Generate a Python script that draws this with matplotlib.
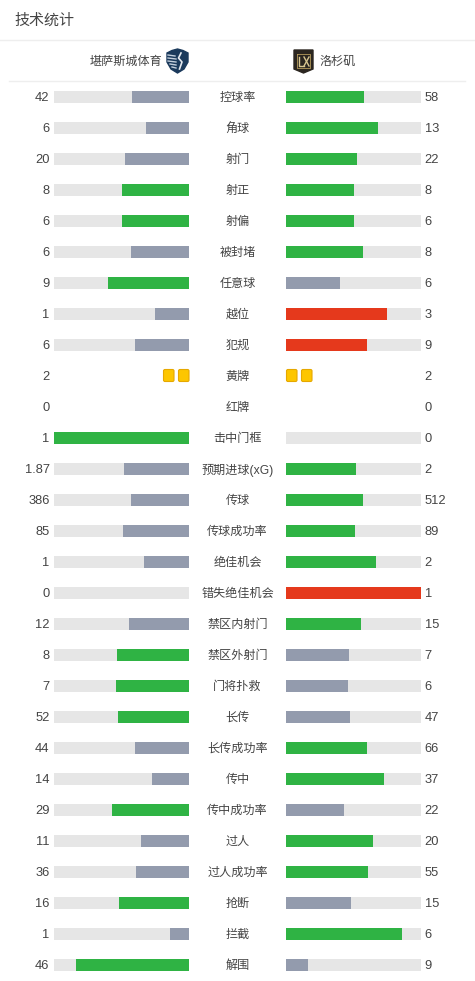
import matplotlib
matplotlib.use("Agg")
import matplotlib.pyplot as plt
from matplotlib.patches import Polygon, FancyBboxPatch

plt.rcParams['font.family'] = ['Liberation Sans', 'Noto Sans CJK SC', 'DejaVu Sans']

W, H = 475, 981

stats = ['控球率', '角球', '射门', '射正', '射偏', '被封堵', '任意球', '越位', '犯规', '黄牌', '红牌',
         '击中门框', '预期进球(xG)', '传球', '传球成功率', '绝佳机会', '错失绝佳机会', '禁区内射门',
         '禁区外射门', '门将扑救', '长传', '长传成功率', '传中', '传中成功率', '过人', '过人成功率',
         '抢断', '拦截', '解围']
home = [42, 6, 20, 8, 6, 6, 9, 1, 6, 2, 0, 1, 1.87, 386, 85, 1, 0, 12, 8, 7, 52, 44, 14, 29, 11, 36, 16, 1, 46]
away = [58, 13, 22, 8, 6, 8, 6, 3, 9, 2, 0, 0, 2, 512, 89, 2, 1, 15, 7, 6, 47, 66, 37, 22, 20, 55, 15, 6, 9]
# fewer is better here, the larger one is red
bad_stats = ['越位', '犯规', '错失绝佳机会']
card_stats = ['黄牌', '红牌']

GREEN = '#2fb344'
GREY = '#939bad'
RED = '#e5391c'
TRACK = '#e6e6e6'
TEXT = '#444444'

fig = plt.figure(figsize=(W / 100, H / 100), dpi=100)

# page axes in pixels, for the text and the header
page = fig.add_axes([0, 0, 1, 1])
page.set_xlim(0, W)
page.set_ylim(H, 0)
page.axis('off')

page.text(14.5, 21, '技术统计', fontsize=10.8, color=TEXT, va='center')
page.plot([0, W], [40, 40], color='#eeeeee', lw=1)
page.plot([9, 465], [81, 81], color='#eeeeee', lw=1)
page.text(162, 62, '堪萨斯城体育', fontsize=8.7, color=TEXT, va='center', ha='right')
page.text(319, 62, '洛杉矶', fontsize=8.7, color=TEXT, va='center', ha='left')

# home crest
page.add_patch(Polygon([(167, 53), (172, 50.5), (177.5, 49), (183, 50.5), (188, 53), (188, 62),
                        (184, 69), (177.5, 73), (171, 69), (167, 62)], color='#1b3a5c'))
for y, x0, x1 in [(55, 168, 175), (58, 168, 176), (61, 168, 176), (64, 170, 176), (67, 172, 176)]:
    page.plot([x0, x1], [y, y + 1], color='#c3cfdc', lw=1)
page.plot([181, 178.5, 182, 179.5], [53, 58, 62, 69], color='#e4e9ef', lw=1.2)

# away crest
page.add_patch(Polygon([(294, 50), (313, 50), (313, 69), (303.5, 73), (294, 69)], color='#2b2620'))
page.plot([297, 310, 310, 297, 297], [54, 54, 68, 68, 54], color='#b59a5b', lw=0.6)
page.plot([299, 299, 304], [57, 66, 66], color='#d8c690', lw=1)
page.plot([304, 309], [57, 66], color='#d8c690', lw=1)
page.plot([309, 304], [57, 66], color='#d8c690', lw=1)

# bars share one row scale, 97 px for row 0 and 31 px per row
row_top = -97 / 31
row_bottom = (H - 97) / 31


def bar_axes(x0, x1, reverse):
    ax = fig.add_axes([x0 / W, 0, (x1 - x0) / W, 1])
    ax.set_xlim(1, 0) if reverse else ax.set_xlim(0, 1)
    ax.set_ylim(row_bottom, row_top)
    ax.axis('off')
    ax.patch.set_alpha(0)
    return ax


ax_home = bar_axes(54, 189, True)
ax_away = bar_axes(286, 421, False)


def bar_colour(own, other, stat):
    if own > other:
        return RED if stat in bad_stats else GREEN
    if own == other:
        return GREEN
    return GREY


for i, (stat, h, a) in enumerate(zip(stats, home, away)):
    y = 97 + 31 * i
    page.text(237.5, y + 1, stat, fontsize=8.7, color=TEXT, ha='center', va='center')
    page.text(49.5, y + 1, f'{h}', fontsize=9.3, color=TEXT, ha='right', va='center')
    page.text(424.5, y + 1, f'{a}', fontsize=9.3, color=TEXT, ha='left', va='center')

    if stat in card_stats:
        # one small card per booking, counted in from the inner edge
        for n, sign, edge in [(h, -1, 189), (a, 1, 286)]:
            for k in range(n):
                x = edge + sign * k * 15 + (0.5 if sign > 0 else -10.5)
                page.add_patch(FancyBboxPatch((x, y - 6.5), 10.5, 12, boxstyle='round,pad=0,rounding_size=1.5',
                                              fc='#fdc600', ec='#e6a800', lw=0.8))
        continue

    ax_home.barh(i, 1, height=12 / 31, color=TRACK)
    ax_away.barh(i, 1, height=12 / 31, color=TRACK)
    total = h + a
    ax_home.barh(i, h / total, height=12 / 31, color=bar_colour(h, a, stat))
    ax_away.barh(i, a / total, height=12 / 31, color=bar_colour(a, h, stat))

fig.savefig('out.png', dpi=100, facecolor='white')
plt.close()
